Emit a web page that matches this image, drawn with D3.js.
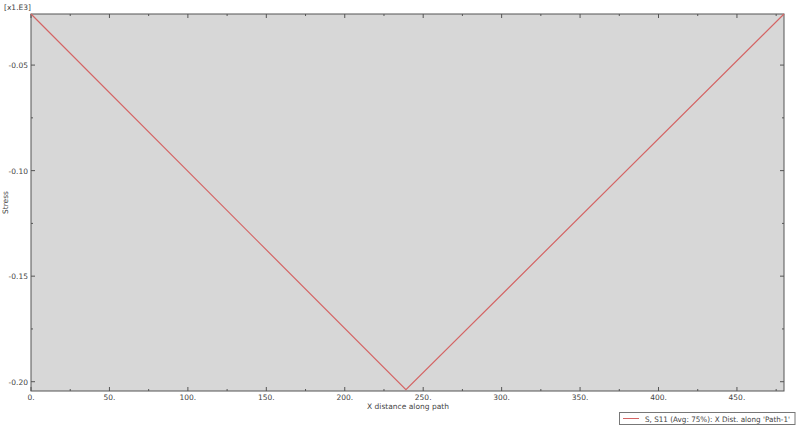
<!DOCTYPE html>
<html>
<head>
<meta charset="utf-8">
<script src="https://cdn.jsdelivr.net/npm/d3@7"></script>
<style>
  body { margin: 0; background: #fff; }
  text { font-family: "DejaVu Sans", Verdana, sans-serif; fill: #444; }
</style>
</head>
<body>
<svg id="chart" width="800" height="428"></svg>
<script>
// path distance (x) and stress S11 in units of x1.E3
const distance = [0, 239, 480]
const stress = [-0.0258, -0.2038, -0.0258]
const xTicks = [0, 50, 100, 150, 200, 250, 300, 350, 400, 450]
const yTicks = [-0.05, -0.10, -0.15, -0.20]
const legendLabel = "S, S11 (Avg: 75%): X Dist. along 'Path-1'"

const margin = {left: 31, top: 14, right: 16, bottom: 37}
const width = 800, height = 428

var svg = d3.select("#chart")
var x = d3.scaleLinear().domain([0, 480]).range([margin.left, width - margin.right])
var y = d3.scaleLinear().domain([-0.2044, -0.0258]).range([height - margin.bottom, margin.top])

// plot background
svg.append("rect")
  .attr("x", x(0)).attr("y", y(-0.0258))
  .attr("width", x(480) - x(0)).attr("height", y(-0.2044) - y(-0.0258))
  .attr("fill", "#d7d7d7")

var minorX = d3.range(25, 480, 50)
var minorY = [-0.075, -0.125, -0.175]

// ticks pointing inward on all four sides
function tickLines(vals, len, horiz){
  vals.forEach(v => {
    if(horiz){
      svg.append("line").attr("x1", x(v)).attr("x2", x(v)).attr("y1", y.range()[0]).attr("y2", y.range()[0] - len).attr("stroke", "#555")
      svg.append("line").attr("x1", x(v)).attr("x2", x(v)).attr("y1", y.range()[1]).attr("y2", y.range()[1] + len).attr("stroke", "#555")
    } else {
      svg.append("line").attr("y1", y(v)).attr("y2", y(v)).attr("x1", x.range()[0]).attr("x2", x.range()[0] + len).attr("stroke", "#555")
      svg.append("line").attr("y1", y(v)).attr("y2", y(v)).attr("x1", x.range()[1]).attr("x2", x.range()[1] - len).attr("stroke", "#555")
    }
  })
}
tickLines(xTicks, 4, true)
tickLines(minorX, 2, true)
tickLines(yTicks, 4, false)
tickLines(minorY, 2, false)

// frame
svg.append("rect")
  .attr("x", x(0)).attr("y", y(-0.0258))
  .attr("width", x(480) - x(0)).attr("height", y(-0.2044) - y(-0.0258))
  .attr("fill", "none").attr("stroke", "#555").attr("stroke-width", 1)

// tick labels
svg.selectAll(".xl").data(xTicks).enter().append("text")
  .attr("x", d => x(d)).attr("y", height - margin.bottom + 9)
  .attr("text-anchor", "middle").attr("font-size", 7.5)
  .text(d => d + ".")
svg.selectAll(".yl").data(yTicks).enter().append("text")
  .attr("x", margin.left - 3).attr("y", d => y(d) + 3)
  .attr("text-anchor", "end").attr("font-size", 7.5)
  .text(d => d.toFixed(2))

svg.append("text").attr("x", 4).attr("y", 10).attr("font-size", 7.5).text("[x1.E3]")
svg.append("text").attr("transform", "translate(8," + ((margin.top + height - margin.bottom) / 2) + ")rotate(-90)")
  .attr("text-anchor", "middle").attr("font-size", 7.5).text("Stress")
svg.append("text").attr("x", 408).attr("y", 409).attr("text-anchor", "middle").attr("font-size", 7.5).text("X distance along path")

// data line
var line = d3.line().x((d, i) => x(distance[i])).y(d => y(d))
svg.append("path").datum(stress).attr("d", line)
  .attr("fill", "none").attr("stroke", "#d46464").attr("stroke-width", 1.2)

// legend
svg.append("rect").attr("x", 619.5).attr("y", 412.5).attr("width", 175.5).attr("height", 12)
  .attr("fill", "#fff").attr("stroke", "#777")
svg.append("line").attr("x1", 623).attr("x2", 639).attr("y1", 418.5).attr("y2", 418.5).attr("stroke", "#d46464")
svg.append("text").attr("x", 645).attr("y", 421.5).attr("font-size", 7.5)
  .attr("textLength", 145).attr("lengthAdjust", "spacingAndGlyphs").text(legendLabel)
</script>
</body>
</html>
